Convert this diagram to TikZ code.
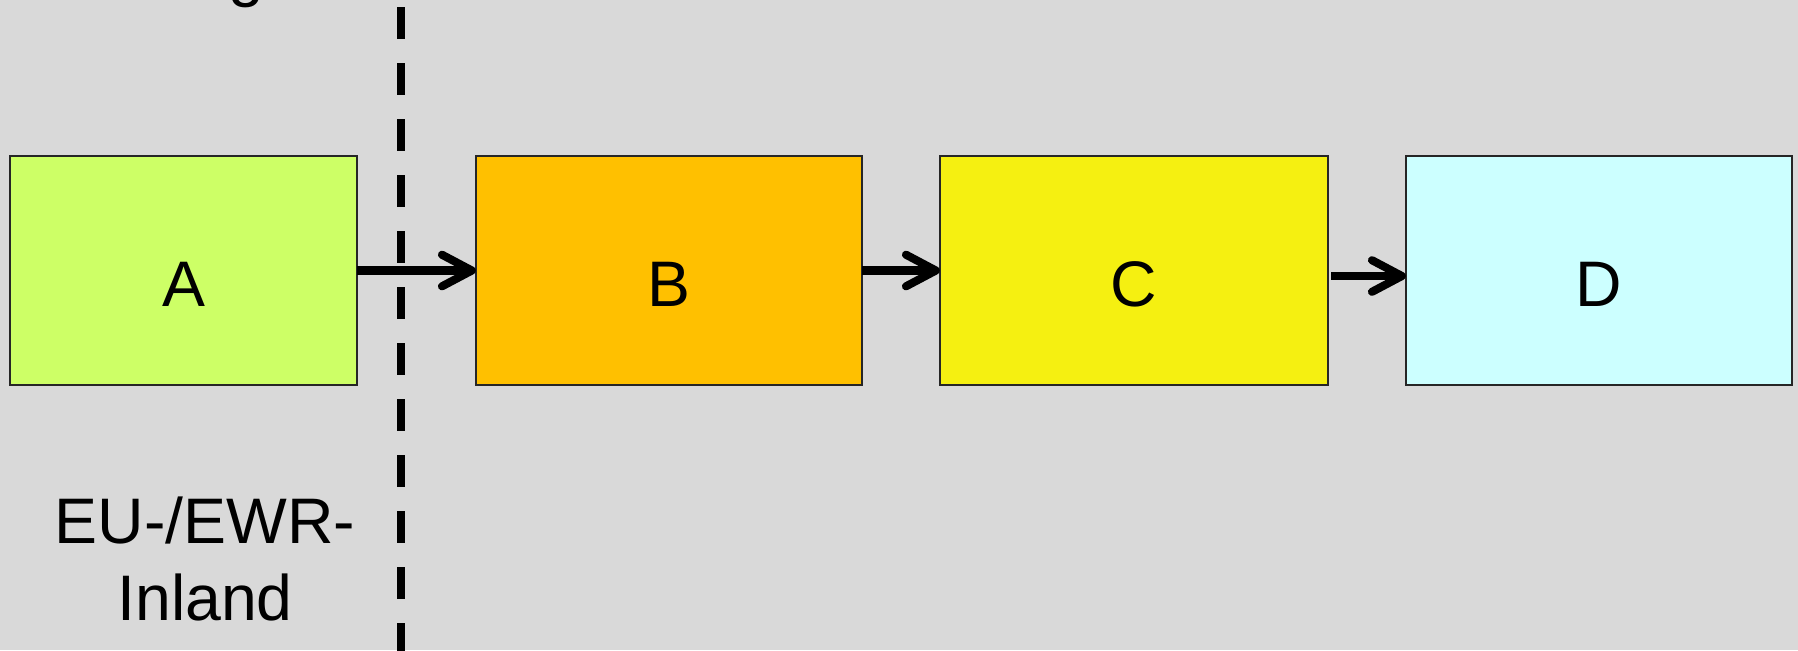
\documentclass[tikz,border=0pt]{standalone}
\usepackage{fontspec}
\setmainfont{Liberation Sans}
\usetikzlibrary{arrows.meta}
\definecolor{bg}{HTML}{D9D9D9}
\definecolor{cA}{HTML}{CDFF66}
\definecolor{cB}{HTML}{FFC000}
\definecolor{cC}{HTML}{F5F011}
\definecolor{cD}{HTML}{CCFFFF}
\tikzset{
  box/.style={draw=black!85, line width=0.6pt, inner sep=0pt, outer sep=0pt,
    minimum height=2.29cm, text height=20.2pt, text depth=0pt,
    font=\fontsize{18.3pt}{22pt}\selectfont},
  lbl/.style={inner sep=0pt, anchor=base, font=\fontsize{18.3pt}{22pt}\selectfont},
  flow/.style={line width=2.3pt, -{Straight Barb[length=8.5pt, width=9pt, line cap=round, line join=round]}},
  border/.style={line width=2.3pt, dash pattern=on 9.1pt off 6.83pt}
}
\begin{document}
\begin{tikzpicture}[x=0.01cm, y=-0.01cm]
\fill[bg] (0,0) rectangle (1798,650);
\useasboundingbox (0,0) rectangle (1798,650);
\node[lbl] (top) at (246,-5.5) {g};
\coordinate (d1) at (401,7);
\coordinate (d2) at (401,660);
\draw[border] (d1) -- (d2);
\node[box, fill=cA, minimum width=3.47cm] (A) at (183.5,270.5) {A};
\node[box, fill=cB, minimum width=3.86cm] (B) at (669,270.5) {B};
\node[box, fill=cC, minimum width=3.88cm] (C) at (1134,270.5) {C};
\node[box, fill=cD, minimum width=3.86cm] (D) at (1599,270.5) {D};
\draw[flow] (A.east) -- (B.west);
\draw[flow] (B.east) -- (C.west);
\draw[flow] ([xshift=3*0.01cm, yshift=-5.5*0.01cm]C.east) -- ([yshift=-5.5*0.01cm]D.west);
\node[lbl] (eu1) at (205,543) {EU-/EWR-};
\node[lbl] (eu2) at (205,620) {Inland};
\end{tikzpicture}
\end{document}
